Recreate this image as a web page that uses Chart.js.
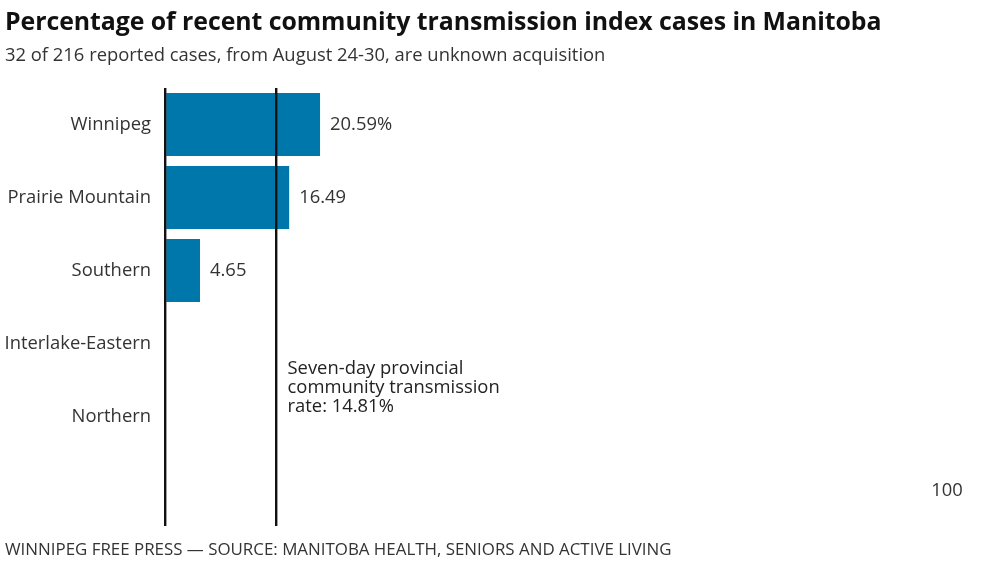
<!DOCTYPE html>
<html>
<head>
<meta charset="utf-8">
<script src="https://cdn.jsdelivr.net/npm/chart.js@4"></script>
<style>
  body { margin: 0; width: 999px; height: 561px; overflow: hidden; background: #fff; font-family: 'Open Sans', sans-serif; position: relative; }
  #title { position: absolute; left: 5px; top: 3px; font-size: 24.85px; font-weight: 700; color: #111; letter-spacing: -0.05px; white-space: nowrap; }
  #subtitle { position: absolute; left: 5px; top: 41px; font-size: 18.4px; color: #333; white-space: nowrap; }
  #footer { position: absolute; left: 5px; top: 537px; font-size: 16.9px; color: #333; white-space: nowrap; }
  #wrap { position: absolute; left: 0; top: 0; width: 999px; height: 561px; }
</style>
</head>
<body>
<div id="wrap"><canvas id="chart"></canvas></div>
<div id="title">Percentage of recent community transmission index cases in Manitoba</div>
<div id="subtitle">32 of 216 reported cases, from August 24-30, are unknown acquisition</div>
<div id="footer">WINNIPEG FREE PRESS — SOURCE: MANITOBA HEALTH, SENIORS AND ACTIVE LIVING</div>
<script>
const regions = ['Winnipeg', 'Prairie Mountain', 'Southern', 'Interlake-Eastern', 'Northern', ''];
const percentUnknown = [20.59, 16.49, 4.65, 0, 0, null];
const provincialRate = 14.81;
const xLines = [0, provincialRate];
const axisMax = 100;
const rateNote = ['Seven-day provincial', 'community transmission', 'rate: 14.81%'];

const FONT = '18.4px "Open Sans"';

// value labels next to bars, first one gets a % sign
const valueLabels = {
  id: 'valueLabels',
  afterDatasetsDraw(chart) {
    const ctx = chart.ctx;
    const meta = chart.getDatasetMeta(0);
    ctx.save();
    ctx.font = FONT;
    ctx.fillStyle = '#333';
    ctx.textBaseline = 'middle';
    meta.data.forEach((bar, i) => {
      const v = percentUnknown[i];
      if (!v) return;
      const txt = i === 0 ? v + '%' : String(v);
      ctx.fillText(txt, bar.x + 10, bar.y);
    });
    ctx.restore();
  }
};

// note beside the provincial rate line, plus the stray "100" max label
const notes = {
  id: 'notes',
  afterDraw(chart) {
    const ctx = chart.ctx;
    const xs = chart.scales.x, ys = chart.scales.y;
    const x = xs.getPixelForValue(provincialRate) + 11;
    const y0 = ys.getPixelForValue(3) + 25;
    ctx.save();
    ctx.font = FONT;
    ctx.fillStyle = '#222';
    ctx.textBaseline = 'middle';
    rateNote.forEach((line, i) => ctx.fillText(line, x, y0 + i * 19));
    ctx.fillStyle = '#333';
    ctx.textAlign = 'center';
    ctx.fillText(String(axisMax), xs.getPixelForValue(axisMax) + 29, ys.getPixelForValue(5) + 1);
    ctx.restore();
  }
};

new Chart(document.getElementById('chart'), {
  type: 'bar',
  data: {
    labels: regions,
    datasets: [{
      data: percentUnknown,
      backgroundColor: '#0077aa',
      barPercentage: 0.86,
      categoryPercentage: 1
    }]
  },
  options: {
    indexAxis: 'y',
    responsive: true,
    maintainAspectRatio: false,
    animation: false,
    layout: { padding: { left: 0, right: 81, top: 88, bottom: 25 } },
    plugins: {
      legend: { display: false },
      tooltip: { enabled: false }
    },
    scales: {
      x: {
        min: 0,
        max: axisMax,
        afterBuildTicks(scale) {
          scale.ticks = xLines.map(v => ({ value: v }));
        },
        afterFit(scale) { scale.height = 10; },
        border: { display: false },
        grid: {
          z: 1,
          drawTicks: false,
          lineWidth: 2.4,
          color: '#111'
        },
        ticks: { display: false }
      },
      y: {
        afterFit(scale) { scale.width = 165; },
        border: { display: false },
        grid: { display: false, drawTicks: false },
        ticks: {
          padding: 14,
          color: '#333',
          font: { family: 'Open Sans', size: 18.4 }
        }
      }
    }
  },
  plugins: [valueLabels, notes]
});
</script>
</body>
</html>
